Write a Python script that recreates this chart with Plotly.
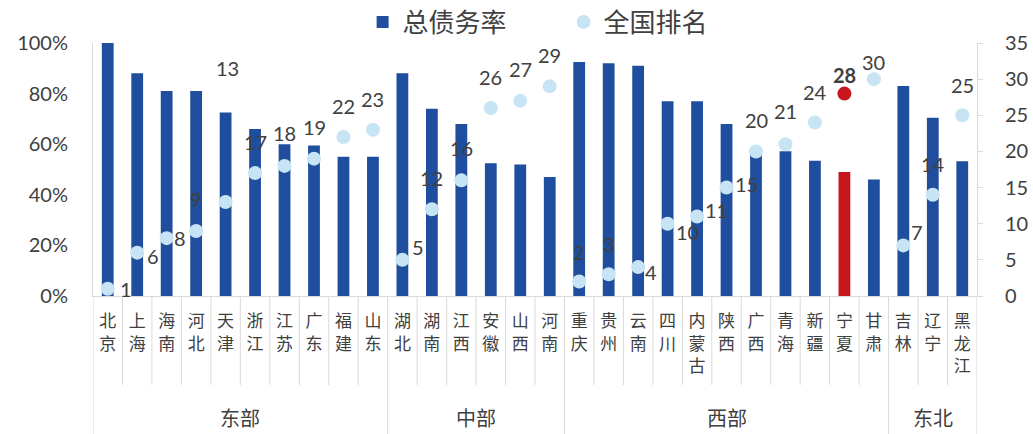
import plotly.graph_objects as go

provinces = ["北京", "上海", "海南", "河北", "天津", "浙江", "江苏", "广东", "福建", "山东",
             "湖北", "湖南", "江西", "安徽", "山西", "河南",
             "重庆", "贵州", "云南", "四川", "内蒙古", "陕西", "广西", "青海", "新疆", "宁夏", "甘肃",
             "吉林", "辽宁", "黑龙江"]
region_names = ["东部", "中部", "西部", "东北"]
region_sizes = [10, 6, 11, 3]

debt_ratio = [1.00, 0.88, 0.81, 0.81, 0.725, 0.66, 0.60, 0.595, 0.55, 0.55,
              0.88, 0.74, 0.68, 0.525, 0.52, 0.47,
              0.925, 0.92, 0.91, 0.77, 0.77, 0.68, 0.58, 0.572, 0.535, 0.49, 0.46,
              0.83, 0.705, 0.533]
national_rank = [1, 6, 8, 9, 13, 17, 18, 19, 22, 23,
                 5, 12, 16, 26, 27, 29,
                 2, 3, 4, 10, 11, 15, 20, 21, 24, 28, 30,
                 7, 14, 25]
highlight = "宁夏"

left_ticks = [0, 0.2, 0.4, 0.6, 0.8, 1.0]
right_ticks = [0, 5, 10, 15, 20, 25, 30, 35]

# label offsets in pixels (dx right, dy down) -- styling only
label_offsets = [(18, 0), (16, 3), (13, 0), (0, -32), (2, -134), (0, -31), (0, -33), (0, -32), (0, -31), (0, -31),
                 (16, -13), (0, -31), (0, -32), (0, -31), (0, -32), (0, -31),
                 (0, -30), (0, -30), (13, 5), (20, 8), (19, -6), (20, -4), (0, -31), (0, -33), (0, -31), (0, -19), (0, -17),
                 (14, -13), (0, -31), (0, -30)]

BLUE = "#1F4E9F"
LIGHT = "#C6E4F4"
RED = "#C8161E"
GRID = "#D9D9D9"
TXT = "#404040"
FONT = "Lato, 'Noto Sans CJK SC', sans-serif"

bar_colors = [RED if p == highlight else BLUE for p in provinces]
dot_colors = [RED if p == highlight else LIGHT for p in provinces]

fig = go.Figure()
fig.add_trace(go.Bar(x=provinces, y=debt_ratio, name="总债务率",
                     marker=dict(color=bar_colors, line=dict(width=0)), yaxis="y"))
fig.add_trace(go.Scatter(x=provinces, y=national_rank, name="全国排名", mode="markers",
                         marker=dict(color=dot_colors, size=14), yaxis="y2"))

annotations = []
for p, r, (dx, dy) in zip(provinces, national_rank, label_offsets):
    txt = f"<b>{r}</b>" if p == highlight else str(r)
    annotations.append(dict(x=p, y=r, xref="x", yref="y2", text=txt, showarrow=False,
                            xshift=dx, yshift=-dy, font=dict(size=20, color=TXT, family=FONT)))

plot_h = 253.0
start = 0
shapes = []
boundaries = {0}
for name, n in zip(region_names, region_sizes):
    center = start + (n - 1) / 2
    annotations.append(dict(x=center, y=-(418 - 296) / plot_h, xref="x", yref="paper", text=name,
                            showarrow=False, font=dict(size=20, color=TXT, family=FONT),
                            yanchor="middle"))
    start += n
    boundaries.add(start)

for i in range(len(provinces) + 1):
    long = i in boundaries
    y1 = -(434 - 296) / plot_h if long else -(385 - 296) / plot_h
    shapes.append(dict(type="line", xref="x", yref="paper", x0=i - 0.5, x1=i - 0.5,
                       y0=0, y1=y1, line=dict(color=GRID, width=1)))

ticktext = ["<br>".join(list(p)) for p in provinces]

fig.update_layout(
    width=1033, height=434,
    margin=dict(l=93, r=56, t=43, b=138, autoexpand=False),
    paper_bgcolor="white", plot_bgcolor="white",
    font=dict(family=FONT, color=TXT),
    bargap=0.6,
    showlegend=True,
    legend=dict(orientation="h", x=0.305, xanchor="left", y=(296 - 22) / plot_h, yanchor="middle",
                font=dict(size=26, color=TXT, family=FONT), entrywidth=156, entrywidthmode="pixels",
                bgcolor="rgba(0,0,0,0)"),
    xaxis=dict(type="category", tickvals=provinces, ticktext=ticktext, showgrid=False,
               showline=True, linecolor=GRID, ticks="", tickfont=dict(size=17, color=TXT, family=FONT),
               range=[-0.5, len(provinces) - 0.5], ticklabelstandoff=10),
    yaxis=dict(range=[0, 1], tickvals=left_ticks, tickformat=".0%", showgrid=False, zeroline=False,
               showline=True, linecolor=GRID, tickfont=dict(size=20, color=TXT, family=FONT),
               ticklabelstandoff=20),
    yaxis2=dict(range=[0, 35], tickvals=right_ticks, overlaying="y", side="right", showgrid=False,
                zeroline=False, showline=True, linecolor=GRID, ticks="outside", ticklen=5, tickcolor=GRID,
                tickfont=dict(size=20, color=TXT, family=FONT), ticklabelstandoff=18),
    annotations=annotations,
    shapes=shapes,
)

fig.write_html("out.html")
